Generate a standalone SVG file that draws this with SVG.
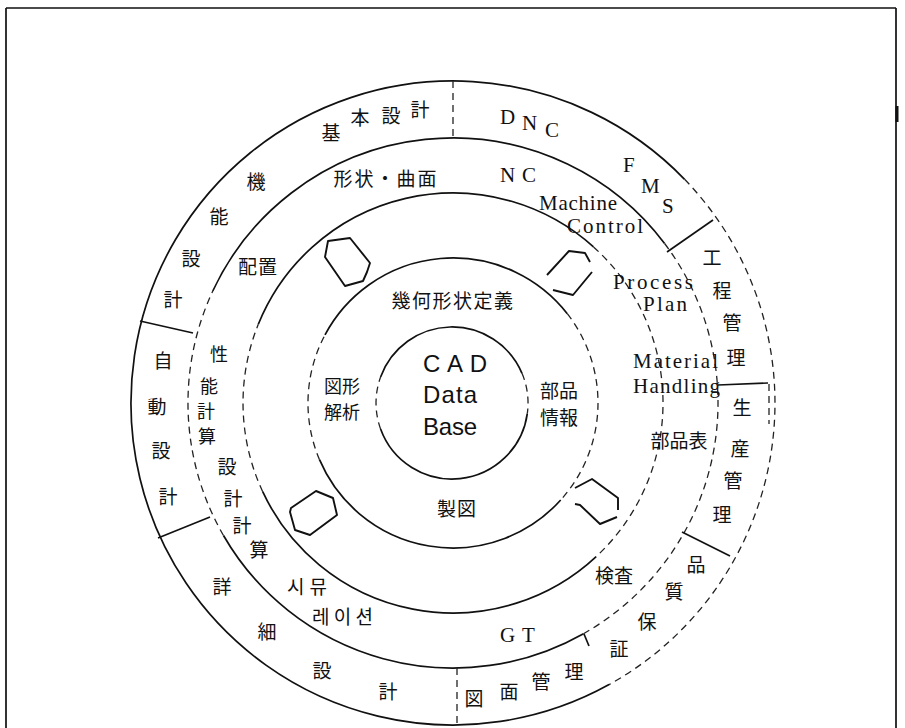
<svg xmlns="http://www.w3.org/2000/svg" width="905" height="728" viewBox="0 0 905 728">
<style>
.s{fill:none;stroke:#111;stroke-width:1.7}
.d{fill:none;stroke:#222;stroke-width:1.3;stroke-dasharray:7 5}
.a{fill:none;stroke:#111;stroke-width:1.9;stroke-linejoin:round}
.j{font-family:"Noto Sans CJK JP",sans-serif;font-size:19px;fill:#111;text-anchor:middle}
.t{font-size:18px}
.k{font-family:"Noto Sans CJK KR",sans-serif;font-size:19px;fill:#111}
.e{font-family:"Liberation Serif",serif;font-size:21px;fill:#111}
.c{font-family:"Liberation Sans",sans-serif;font-size:24px;fill:#111}
</style>
<rect width="905" height="728" fill="#fff"/>
<g id="frame">
<path class="s" d="M6,8 H896 M6,8 V728 M896,8 V728" stroke-width="1.4"/>
<path d="M897,106 V122" stroke="#111" stroke-width="3"/>
</g>
<g id="rings">
<path class="s" d="M609.1,684.6 A322,322 0 1 1 684.6,179.3"/>
<path class="d" d="M684.6,179.3 A322,322 0 0 1 609.1,684.6"/>
<path class="s" d="M583.5,633.7 A265,265 0 0 1 223.5,535.5"/>
<path class="d" d="M223.5,535.5 A265,265 0 0 1 212.8,291"/>
<path class="s" d="M212.8,291 A265,265 0 0 1 664.6,243.5"/>
<path class="d" d="M664.6,243.5 A265,265 0 0 1 583.5,633.7"/>
<path class="s" d="M596.2,556.6 A210,210 0 0 1 262.7,491.7"/>
<path class="d" d="M262.7,491.7 A210,210 0 0 1 258.3,324.3"/>
<path class="s" d="M258.3,324.3 A210,210 0 0 1 593.5,246.9"/>
<path class="d" d="M593.5,246.9 A210,210 0 0 1 596.2,556.6"/>
<path class="s" d="M560.7,500 A145,145 0 0 1 319.5,459.7"/>
<path class="d" d="M319.5,459.7 A145,145 0 0 1 325,334.9"/>
<path class="s" d="M325,334.9 A145,145 0 0 1 567.3,313.7"/>
<path class="d" d="M567.3,313.7 A145,145 0 0 1 560.7,500"/>
<path class="s" d="M527.3,413.6 A76,76 0 0 1 380.6,429"/>
<path class="d" d="M380.6,429 A76,76 0 0 1 380.6,377" stroke-dasharray="5 4"/>
<path class="s" d="M380.6,377 A76,76 0 0 1 522,373.3"/>
<path class="d" d="M522,373.3 A76,76 0 0 1 527.3,413.6" stroke-dasharray="5 4"/>
</g>
<g id="dividers">
<path class="d" d="M453,81 V138"/>
<path class="d" d="M457,668 V728"/>
<path class="s" d="M140,321 L193,333"/>
<path class="s" d="M158,538 L210,517"/>
<path class="s" d="M667,252 L713,220"/>
<path class="s" d="M718,385 L768,383"/>
<path class="d" d="M769,384 V424" stroke-dasharray="5 4"/>
<path class="s" d="M682,532 L730,556"/>
<path class="s" d="M584,634 L589,646" stroke-width="1.3"/>
</g>
<g id="arrows">
<polygon class="a" points="325,257 328,241 350,238 370,263 367,272 363,281 345,286"/>
<polyline class="a" points="547,275 569,251 585,253 590,262"/>
<polyline class="a" points="553,290 573,295 592,272"/>
<polygon class="a" points="291,508 316,491 333,498 337,515 310,535 295,530 290,512"/>
<polyline class="a" points="575,488 592,479 618,498 618,510"/>
<polyline class="a" points="575,504 580,505 600,524 617,517"/>
</g>
<g id="center-cad">
<text class="c" x="423" y="372" textLength="64" lengthAdjust="spacing">C A D</text>
<text class="c" x="423" y="403" font-size="23" textLength="54" lengthAdjust="spacing">Data</text>
<text class="c" x="423" y="435" font-size="23" textLength="54" lengthAdjust="spacing">Base</text>
</g>
<g id="ring-geometry">
<text class="j" x="453" y="308" letter-spacing="1.5">幾何形状定義</text>
<text class="j t" x="342" y="393">図形</text>
<text class="j t" x="342" y="419">解析</text>
<text class="j" x="559" y="398">部品</text>
<text class="j" x="559" y="425">情報</text>
<text class="j" x="457" y="516" letter-spacing="1">製図</text>
</g>
<g id="ring-applications">
<text class="j" x="386" y="186" letter-spacing="2">形状・曲面</text>
<text class="e" x="500" y="182">N</text>
<text class="e" x="522" y="182">C</text>
<text class="e" x="539" y="210" textLength="78" lengthAdjust="spacing">Machine</text>
<text class="e" x="567" y="233" textLength="76" lengthAdjust="spacing">Control</text>
<text class="e" x="613" y="289" textLength="80" lengthAdjust="spacing">Process</text>
<text class="e" x="643" y="311" textLength="44" lengthAdjust="spacing">Plan</text>
<text class="e" x="633" y="368" textLength="85" lengthAdjust="spacing">Material</text>
<text class="e" x="633" y="393" textLength="87" lengthAdjust="spacing">Handling</text>
<text class="j" x="679" y="448">部品表</text>
<text class="j" x="614" y="583">検査</text>
<text class="e" x="500" y="642">G</text>
<text class="e" x="522" y="642">T</text>
<text class="k" x="287" y="594" textLength="40" lengthAdjust="spacing">시뮤</text>
<text class="k" x="312" y="624" textLength="61" lengthAdjust="spacing">레이션</text>
<text class="j" x="227" y="474">設</text>
<text class="j" x="233" y="506">計</text>
<text class="j" x="242" y="533">計</text>
<text class="j" x="259" y="557">算</text>
<text class="j t" x="219" y="361">性</text>
<text class="j t" x="209" y="393">能</text>
<text class="j t" x="206" y="418">計</text>
<text class="j t" x="207" y="443">算</text>
<text class="j" x="258" y="274" letter-spacing="1">配置</text>
</g>
<g id="seg-kihon">
<text class="j" x="331" y="140">基</text>
<text class="j" x="360" y="125">本</text>
<text class="j" x="391" y="123">設</text>
<text class="j" x="420" y="117">計</text>
<text class="j" x="256" y="189">機</text>
<text class="j" x="219" y="224">能</text>
<text class="j" x="191" y="266">設</text>
<text class="j" x="173" y="307">計</text>
</g>
<g id="seg-dnc">
<text class="e" x="500" y="124">D</text>
<text class="e" x="522" y="130">N</text>
<text class="e" x="545" y="137">C</text>
<text class="e" x="623" y="172">F</text>
<text class="e" x="641" y="193">M</text>
<text class="e" x="662" y="213">S</text>
</g>
<g id="seg-koutei">
<text class="j" x="712" y="265">工</text>
<text class="j" x="722" y="298">程</text>
<text class="j" x="732" y="330">管</text>
<text class="j" x="736" y="365">理</text>
</g>
<g id="seg-seisan">
<text class="j" x="742" y="415">生</text>
<text class="j" x="740" y="456">産</text>
<text class="j" x="733" y="488">管</text>
<text class="j" x="722" y="522">理</text>
</g>
<g id="seg-hinshitsu">
<text class="j" x="696" y="572">品</text>
<text class="j" x="674" y="599">質</text>
<text class="j" x="647" y="629">保</text>
<text class="j" x="619" y="656">証</text>
</g>
<g id="seg-zumen">
<text class="j" x="474" y="706">図</text>
<text class="j" x="509" y="699">面</text>
<text class="j" x="541" y="689">管</text>
<text class="j" x="574" y="679">理</text>
</g>
<g id="seg-shousai">
<text class="j" x="222" y="594">詳</text>
<text class="j" x="267" y="639">細</text>
<text class="j" x="322" y="678">設</text>
<text class="j" x="388" y="699">計</text>
</g>
<g id="seg-jidou">
<text class="j" x="163" y="368">自</text>
<text class="j" x="157" y="414">動</text>
<text class="j" x="161" y="458">設</text>
<text class="j" x="168" y="504">計</text>
</g>
</svg>
